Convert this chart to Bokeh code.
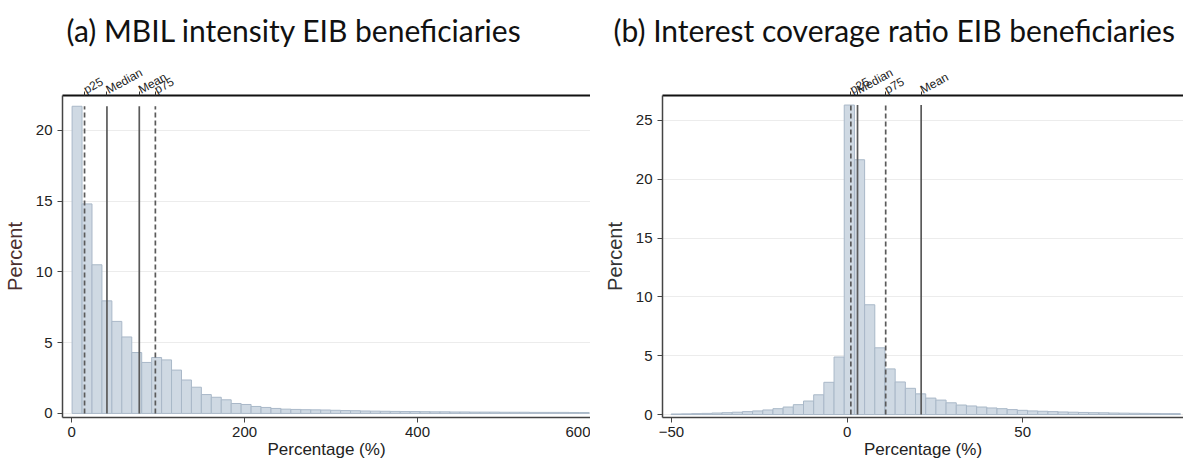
from bokeh.plotting import figure
from bokeh.layouts import row
from bokeh.models import LinearAxis, FixedTicker, Range1d, Spacer
from bokeh.embed import file_html
from bokeh.resources import INLINE

# ---------------- data: panel (a) MBIL intensity ----------------
a_title = "(a) MBIL intensity EIB beneficiaries"
a_bin_start = 0.5
a_bin_width = 11.5
a_percent = [21.7, 14.8, 10.5, 7.95, 6.5, 5.4, 4.3, 3.6, 3.95, 3.78,
             3.06, 2.36, 1.85, 1.33, 1.14, 0.96, 0.70, 0.63, 0.49, 0.42,
             0.35, 0.30, 0.28, 0.26, 0.25, 0.24, 0.22, 0.20, 0.19, 0.17,
             0.16, 0.15, 0.14, 0.13, 0.13, 0.12, 0.11, 0.11, 0.10, 0.10,
             0.09, 0.09, 0.09, 0.08, 0.08, 0.08, 0.07, 0.07, 0.07, 0.07,
             0.06, 0.06]
a_stat_names = ["p25", "Median", "Mean", "p75"]
a_stat_values = [14.9, 40.8, 78.2, 96.8]
a_stat_dashed = [True, False, False, True]
a_xticks = [0, 200, 400, 600]
a_yticks = [0, 5, 10, 15, 20]

# ---------------- data: panel (b) Interest coverage ratio ----------------
b_title = "(b) Interest coverage ratio EIB beneficiaries"
b_bin_start = -50.1
b_bin_width = 2.9
b_percent = [0.05, 0.06, 0.08, 0.10, 0.13, 0.16, 0.20, 0.25, 0.31, 0.39,
             0.50, 0.64, 0.84, 1.15, 1.68, 2.74, 4.89, 26.3, 21.65, 9.33,
             5.67, 3.88, 2.77, 2.23, 1.76, 1.40, 1.23, 1.00, 0.81, 0.73,
             0.64, 0.56, 0.50, 0.42, 0.36, 0.31, 0.28, 0.25, 0.22, 0.20,
             0.18, 0.16, 0.15, 0.13, 0.12, 0.11, 0.10, 0.09, 0.08, 0.08]
b_stat_names = ["p25", "Median", "p75", "Mean"]
b_stat_values = [1.08, 2.98, 11.0, 21.1]
b_stat_dashed = [True, False, True, False]
b_xticks = [-50, 0, 50]
b_yticks = [0, 5, 10, 15, 20, 25]

xlabel = "Percentage (%)"
ylabel = "Percent"

BAR_FILL = "#cfd9e3"
BAR_LINE = "#a9b8c8"
STAT_COLOR = "#5a5a5a"
FONT = "Liberation Sans"


def make_panel(title, title_offset, bin_start, bin_width, heights, names,
               vals, dashed, xticks, yticks, xr, yr, width, ylab_color):
    p = figure(width=width, height=461, output_backend="svg",
               toolbar_location=None, x_range=Range1d(*xr),
               y_range=Range1d(*yr), min_border_left=60, min_border_right=0,
               min_border_top=92, min_border_bottom=40)
    p.outline_line_color = None
    p.background_fill_color = "white"
    p.border_fill_color = "white"

    lefts = [bin_start + i * bin_width for i in range(len(heights))]
    rights = [l + bin_width for l in lefts]
    p.quad(left=lefts, right=rights, bottom=0, top=heights,
           fill_color=BAR_FILL, line_color=BAR_LINE, line_width=1)

    top_h = max(heights)
    dv = [v for v, d in zip(vals, dashed) if d]
    sv = [v for v, d in zip(vals, dashed) if not d]
    p.segment(x0=dv, x1=dv, y0=[0] * len(dv), y1=[top_h] * len(dv),
              line_color=STAT_COLOR, line_width=1.7, line_dash="5 3")
    p.segment(x0=sv, x1=sv, y0=[0] * len(sv), y1=[top_h] * len(sv),
              line_color=STAT_COLOR, line_width=1.7)

    # grid
    p.xgrid.visible = False
    p.ygrid.grid_line_color = "#ececec"
    p.ygrid.grid_line_width = 1

    # bottom axis
    xa = p.xaxis[0]
    xa.ticker = FixedTicker(ticks=xticks)
    xa.axis_label = xlabel
    xa.axis_label_text_font = FONT
    xa.axis_label_text_font_size = "17px"
    xa.axis_label_text_font_style = "normal"
    xa.axis_label_text_color = "#222222"
    xa.axis_label_standoff = 0
    xa.major_label_text_font = FONT
    xa.major_label_text_font_size = "15px"
    xa.major_label_text_color = "#222222"
    xa.major_label_standoff = 4
    xa.major_tick_out = 5
    xa.major_tick_in = 0
    xa.minor_tick_out = 0
    xa.minor_tick_in = 0
    xa.axis_line_color = "#444444"
    xa.axis_line_width = 1.5
    xa.major_tick_line_color = "#444444"

    # left axis
    ya = p.yaxis[0]
    ya.ticker = FixedTicker(ticks=yticks)
    ya.axis_label = ylabel
    ya.axis_label_text_font = FONT
    ya.axis_label_text_font_size = "20px"
    ya.axis_label_text_font_style = "normal"
    ya.axis_label_text_color = ylab_color
    ya.axis_label_standoff = 7
    ya.major_label_text_font = FONT
    ya.major_label_text_font_size = "15px"
    ya.major_label_text_color = "#222222"
    ya.major_label_standoff = 5
    ya.major_label_orientation = "horizontal"
    ya.major_tick_out = 5
    ya.major_tick_in = 0
    ya.minor_tick_out = 0
    ya.minor_tick_in = 0
    ya.axis_line_color = "#444444"
    ya.axis_line_width = 1.5
    ya.major_tick_line_color = "#444444"

    # top axis with statistic labels
    top = LinearAxis(ticker=FixedTicker(ticks=vals),
                     major_label_overrides={v: n for v, n in zip(vals, names)},
                     major_label_orientation=0.5)
    top.major_label_text_font = FONT
    top.major_label_text_font_size = "12px"
    top.major_label_text_color = "#222222"
    top.major_label_standoff = 1
    top.major_tick_out = 4
    top.major_tick_in = 0
    top.minor_tick_out = 0
    top.minor_tick_in = 0
    top.axis_line_color = "#111111"
    top.axis_line_width = 1.8
    top.major_tick_line_color = "#333333"
    p.add_layout(top, "above")

    p.title.text = title
    p.title.align = "left"
    p.title.offset = title_offset
    p.title.text_font = "Lato"
    p.title.text_font_size = "30px"
    p.title.text_font_style = "normal"
    p.title.text_color = "#111111"
    p.title.standoff = 18
    return p


pa = make_panel(a_title, 4, a_bin_start, a_bin_width, a_percent, a_stat_names,
                a_stat_values, a_stat_dashed, a_xticks, a_yticks,
                (-10.6, 600), (-0.29, 22.46), 590, "#4a2e2e")
pb = make_panel(b_title, -49, b_bin_start, b_bin_width, b_percent,
                b_stat_names, b_stat_values, b_stat_dashed, b_xticks,
                b_yticks, (-52.55, 95.8), (-0.25, 27.11), 583, "#333333")

layout = row(pa, Spacer(width=10, height=461), pb)
open("out.html", "w").write(file_html(layout, INLINE))
